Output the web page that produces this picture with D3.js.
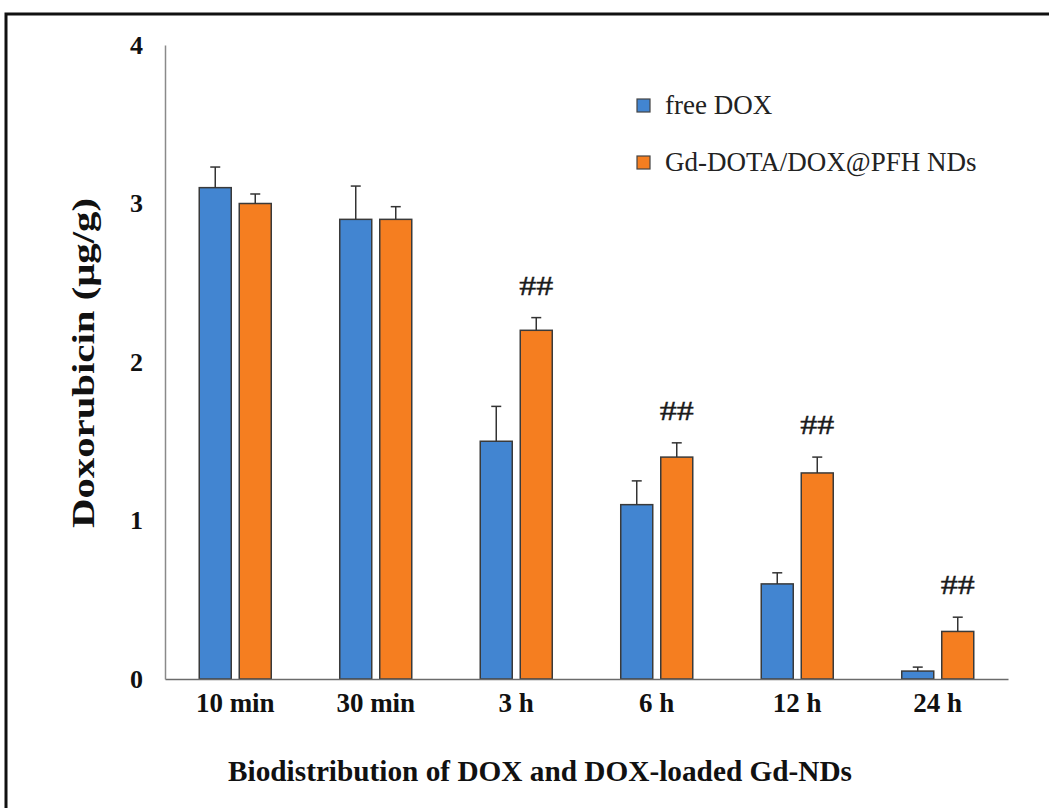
<!DOCTYPE html>
<html>
<head>
<meta charset="utf-8">
<script src="https://cdn.jsdelivr.net/npm/d3@7"></script>
<style>
  body { margin: 0; background: #fff; }
  text { font-family: "Liberation Serif", "Times New Roman", serif; }
</style>
</head>
<body>
<div class="chart"></div>
<script>
// categories and series
const categories = ["10 min", "30 min", "3 h", "6 h", "12 h", "24 h"];
const seriesNames = ["free DOX", "Gd-DOTA/DOX@PFH NDs"];
const freeDox = [3.1, 2.9, 1.5, 1.1, 0.6, 0.05];
const freeDoxErr = [0.13, 0.21, 0.22, 0.15, 0.07, 0.025];
const gdNds = [3.0, 2.9, 2.2, 1.4, 1.3, 0.3];
const gdNdsErr = [0.06, 0.08, 0.08, 0.09, 0.10, 0.09];
const marks = ["", "", "##", "##", "##", "##"];
const yTicks = [0, 1, 2, 3, 4];

const colors = ["#4285d1", "#f57e20"];

let width = 1049, height = 808;
let margin = {top: 45, right: 41, bottom: 129, left: 165};
let innerW = width - margin.left - margin.right;
let innerH = height - margin.top - margin.bottom;

let svg = d3.select(".chart").append("svg")
  .attr("width", width)
  .attr("height", height);

// outer frame (only top and left edges fall inside the picture)
svg.append("path")
  .attr("d", "M6,808 L6,14 L1049,14")
  .attr("fill", "none")
  .attr("stroke", "#111")
  .attr("stroke-width", 3);

let g = svg.append("g")
  .attr("transform", "translate(" + margin.left + "," + margin.top + ")");

let x0 = d3.scaleBand().domain(categories).range([0, innerW]).padding(0);
let x1 = d3.scaleBand().domain([0, 1]).range([0, x0.bandwidth()])
  .paddingInner(0.2).paddingOuter(0.856);
let y = d3.scaleLinear().domain([0, 4]).range([innerH, 0]);

let rows = categories.map(function(c, i) {
  return {
    cat: c,
    mark: marks[i],
    vals: [
      {s: 0, v: freeDox[i], e: freeDoxErr[i]},
      {s: 1, v: gdNds[i], e: gdNdsErr[i]}
    ]
  };
});

// bars
let groups = g.selectAll(".grp").data(rows).enter().append("g")
  .attr("class", "grp")
  .attr("transform", function(d) { return "translate(" + x0(d.cat) + ",0)"; });

groups.selectAll("rect").data(function(d) { return d.vals; }).enter().append("rect")
  .attr("x", function(d) { return x1(d.s); })
  .attr("y", function(d) { return y(d.v); })
  .attr("width", x1.bandwidth())
  .attr("height", function(d) { return y(0) - y(d.v); })
  .attr("fill", function(d) { return colors[d.s]; })
  .attr("stroke", "#3a3a3a")
  .attr("stroke-width", 1.5);

// error bars (upper only)
let eb = groups.selectAll(".err").data(function(d) { return d.vals; }).enter().append("g")
  .attr("class", "err")
  .attr("stroke", "#333")
  .attr("stroke-width", 1.5);
eb.append("line")
  .attr("x1", function(d) { return x1(d.s) + x1.bandwidth() / 2; })
  .attr("x2", function(d) { return x1(d.s) + x1.bandwidth() / 2; })
  .attr("y1", function(d) { return y(d.v); })
  .attr("y2", function(d) { return y(d.v + d.e); });
eb.append("line")
  .attr("x1", function(d) { return x1(d.s) + x1.bandwidth() / 2 - 5; })
  .attr("x2", function(d) { return x1(d.s) + x1.bandwidth() / 2 + 5; })
  .attr("y1", function(d) { return y(d.v + d.e); })
  .attr("y2", function(d) { return y(d.v + d.e); });

// significance marks
groups.append("text")
  .attr("x", x1(1) + x1.bandwidth() / 2)
  .attr("y", function(d) { return y(d.vals[1].v + d.vals[1].e) - 23; })
  .attr("text-anchor", "middle")
  .style("font-size", "28px")
  .attr("textLength", 34)
  .attr("lengthAdjust", "spacingAndGlyphs")
  .attr("fill", "#1a1a1a")
  .attr("stroke", "#1a1a1a")
  .attr("stroke-width", 0.4)
  .text(function(d) { return d.mark; });

// axes
let xAxis = g.append("g")
  .attr("transform", "translate(0," + innerH + ")")
  .call(d3.axisBottom(x0).tickSize(0).tickPadding(14));
xAxis.select(".domain").attr("stroke", "#6b6b6b").attr("stroke-width", 1.5);
xAxis.selectAll("text")
  .style("font-size", "27px").style("font-weight", "bold").attr("fill", "#111");

let yAxis = g.append("g")
  .call(d3.axisLeft(y).tickValues(yTicks).tickSize(0).tickPadding(22).tickFormat(d3.format("d")));
yAxis.select(".domain").attr("stroke", "#8a8a8a").attr("stroke-width", 1.5);
yAxis.selectAll("text")
  .style("font-size", "26px").style("font-weight", "bold").attr("fill", "#111");

// axis titles
svg.append("text")
  .attr("transform", "translate(94," + 363 + ") rotate(-90)")
  .attr("text-anchor", "middle")
  .style("font-size", "31px").style("font-weight", "bold")
  .attr("textLength", 330)
  .attr("lengthAdjust", "spacingAndGlyphs")
  .attr("fill", "#111")
  .text("Doxorubicin (μg/g)");

svg.append("text")
  .attr("x", 540)
  .attr("y", 781)
  .attr("text-anchor", "middle")
  .style("font-size", "29px").style("font-weight", "bold")
  .attr("textLength", 624)
  .attr("lengthAdjust", "spacingAndGlyphs")
  .attr("fill", "#111")
  .text("Biodistribution of DOX and DOX-loaded Gd-NDs");

// legend
let legend = svg.append("g").attr("transform", "translate(637,0)");
let legendY = [105, 162];
seriesNames.forEach(function(name, i) {
  legend.append("rect")
    .attr("x", 0).attr("y", legendY[i] - 6)
    .attr("width", 13).attr("height", 13)
    .attr("fill", colors[i])
    .attr("stroke", "#444").attr("stroke-width", 1.2);
  legend.append("text")
    .attr("x", 28).attr("y", legendY[i] + 9)
    .style("font-size", "27px")
    .attr("fill", "#222")
    .text(name);
});
</script>
</body>
</html>
